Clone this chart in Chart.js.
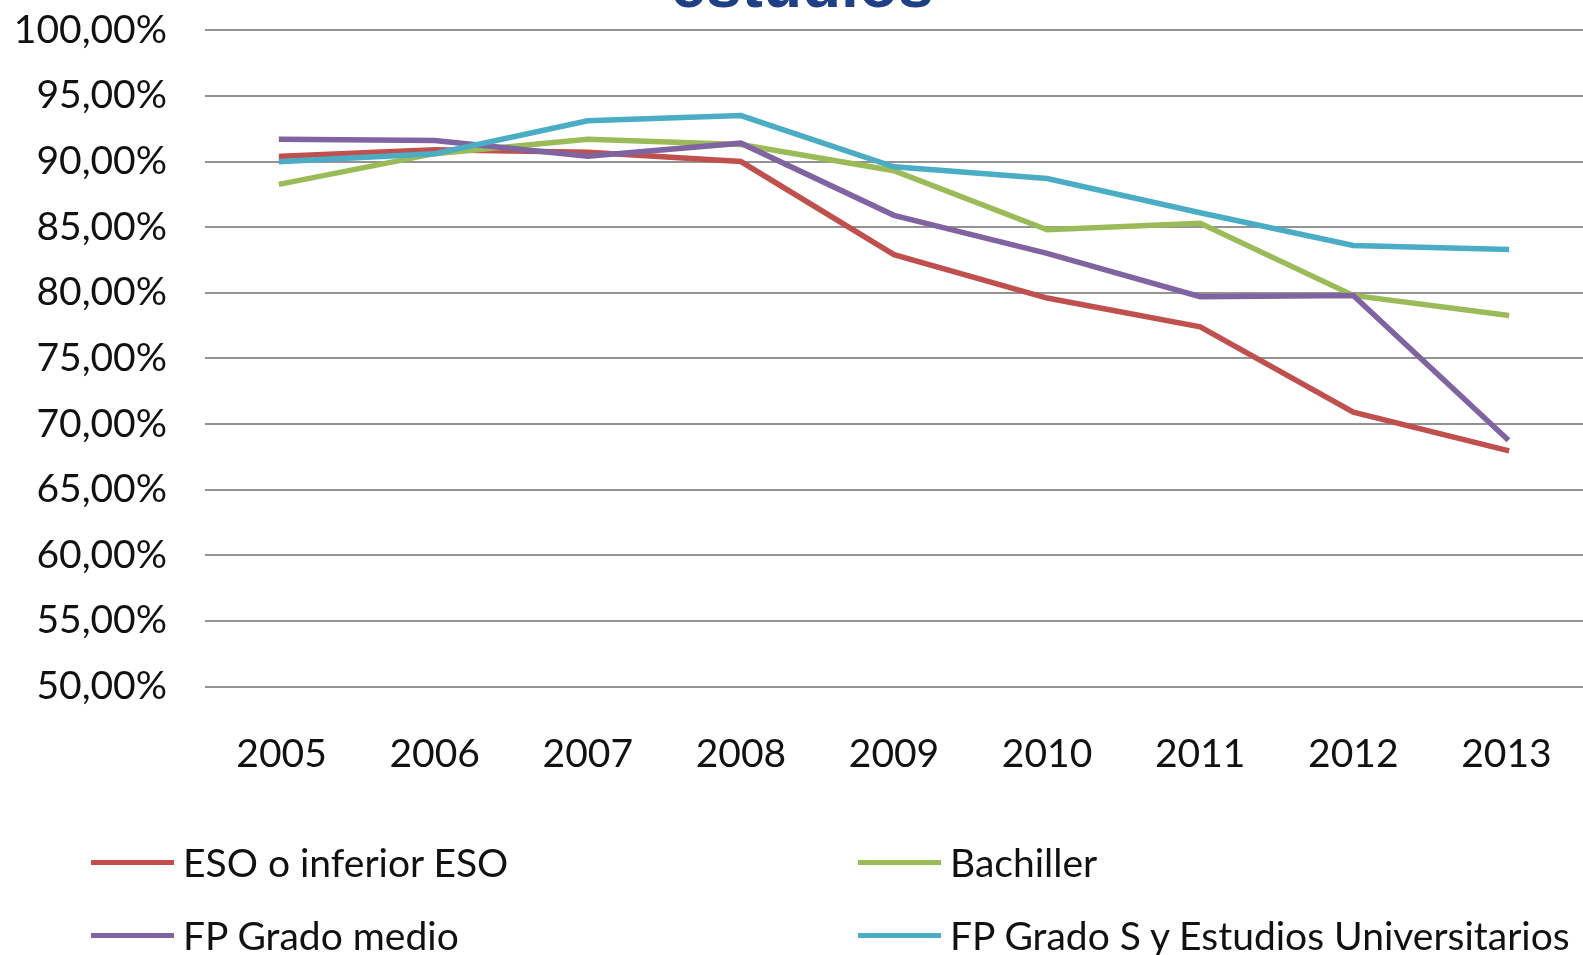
<!DOCTYPE html>
<html>
<head>
<meta charset="utf-8">
<script src="https://cdn.jsdelivr.net/npm/chart.js@4"></script>
<style>
  html, body { margin:0; padding:0; background:#fff; }
  body { width:1583px; height:955px; position:relative; overflow:hidden; }
  #wrap { position:absolute; left:0; top:0; width:1583px; height:955px; }
  #title { position:absolute; left:0; width:1604px; top:-47px; height:64px; line-height:64px; text-align:center;
           font-family:"Liberation Sans", Arial, sans-serif; font-weight:bold; font-size:64px; color:#1F3F87; white-space:nowrap; }
  .lg { position:absolute; display:flex; align-items:center; font-family:Lato, "Liberation Sans", sans-serif; font-size:39px; color:#111; white-space:nowrap; }
  .lg span.sw { display:inline-block; width:83px; height:5px; margin-right:9px; }
</style>
</head>
<body>
<div id="wrap"><canvas id="c" width="1583" height="955"></canvas></div>
<div id="title"></div>
<div id="legend"></div>
<script>
const titleText = 'estudios';
const years = ['2005','2006','2007','2008','2009','2010','2011','2012','2013'];
const seriesNames = ['ESO o inferior ESO','Bachiller','FP Grado medio','FP Grado S y Estudios Universitarios'];
const eso = [90.4, 90.9, 90.7, 90.0, 82.9, 79.6, 77.4, 70.9, 68.0];
const bachiller = [88.3, 90.6, 91.7, 91.3, 89.3, 84.8, 85.3, 79.8, 78.3];
const fpMedio = [91.7, 91.6, 90.4, 91.4, 85.9, 83.0, 79.7, 79.8, 68.9];
const fpSuperior = [90.0, 90.6, 93.1, 93.5, 89.6, 88.7, 86.1, 83.6, 83.3];
const colors = ['#C0504D', '#9BBB59', '#8064A2', '#4BACC6'];
const yMin = 50, yMax = 100, yStep = 5;

document.getElementById('title').textContent = titleText;

const seriesData = [eso, bachiller, fpMedio, fpSuperior];
const datasets = seriesData.map((d, i) => ({
  label: seriesNames[i],
  data: d,
  borderColor: colors[i],
  backgroundColor: colors[i],
  borderWidth: 5.5,
  borderCapStyle: 'square',
  borderJoinStyle: 'miter',
  pointRadius: 0,
  tension: 0,
  fill: false,
  order: 4 - i
}));

const family = 'Lato, "Liberation Sans", sans-serif';

new Chart(document.getElementById('c'), {
  type: 'line',
  data: { labels: years, datasets },
  options: {
    responsive: false,
    animation: false,
    layout: { padding: 0 },
    plugins: {
      legend: { display: false },
      tooltip: { enabled: false },
      title: { display: false }
    },
    scales: {
      x: {
        offset: true,
        grid: { display: false, drawTicks: false },
        border: { display: false },
        ticks: { font: { family, size: 39, lineHeight: 3.46 }, color: '#111', padding: 0, maxRotation: 0, autoSkip: false },
        afterFit: s => { s.height = 268.5; }
      },
      y: {
        min: yMin, max: yMax,
        grid: { color: '#939393', lineWidth: 2, drawTicks: false },
        border: { display: false },
        ticks: {
          stepSize: yStep,
          font: { family, size: 39 },
          color: '#111',
          padding: 38,
          callback: v => v.toFixed(2).replace('.', ',') + '%'
        },
        afterFit: s => { s.width = 205; s.paddingTop = 30.3; s.paddingBottom = 0; }
      }
    }
  }
});

// legend (2 x 2 grid as in the reference)
const legendPos = [
  { left: 91, top: 862 }, { left: 858, top: 862 },
  { left: 91, top: 935 }, { left: 858, top: 935 }
];
const lg = document.getElementById('legend');
seriesNames.forEach((name, i) => {
  const d = document.createElement('div');
  d.className = 'lg';
  d.style.left = legendPos[i].left + 'px';
  d.style.top = (legendPos[i].top - 24) + 'px';
  d.style.height = '48px';
  const sw = document.createElement('span');
  sw.className = 'sw';
  sw.style.background = colors[i];
  d.appendChild(sw);
  d.appendChild(document.createTextNode(name));
  lg.appendChild(d);
});
</script>
</body>
</html>
